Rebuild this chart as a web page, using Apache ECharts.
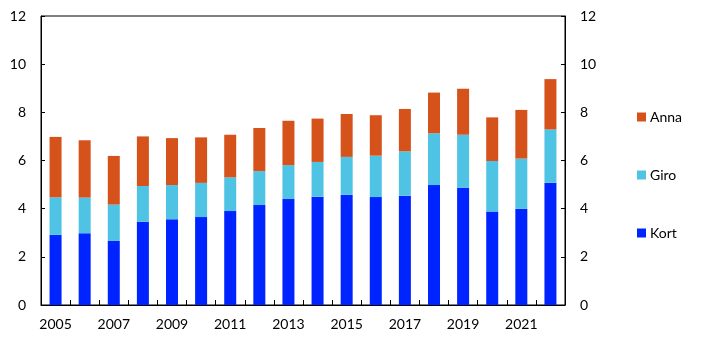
<!DOCTYPE html>
<html><head><meta charset="utf-8">
<script src="https://cdn.jsdelivr.net/npm/echarts@6/dist/echarts.min.js"></script>
<style>html,body{margin:0;padding:0;background:#fff}#c{width:722px;height:345px}</style>
</head><body><div id="c"></div>
<script>
const years = ['2005','2006','2007','2008','2009','2010','2011','2012','2013','2014','2015','2016','2017','2018','2019','2020','2021','2022'];
const kort = [2.91,2.98,2.66,3.45,3.56,3.65,3.90,4.15,4.40,4.50,4.58,4.48,4.54,4.98,4.86,3.88,3.99,5.08];
const giro = [1.56,1.48,1.51,1.49,1.42,1.42,1.40,1.41,1.41,1.44,1.57,1.72,1.84,2.15,2.21,2.10,2.09,2.21];
const anna = [2.51,2.38,2.02,2.06,1.95,1.89,1.77,1.79,1.84,1.80,1.78,1.68,1.76,1.69,1.91,1.81,2.02,2.09];
const yTicks = [0,2,4,6,8,10,12];

const font = 'Lato';
const chart = echarts.init(document.getElementById('c'), null, {renderer:'canvas'});
const yAxisBase = {
  type:'value', min:yTicks[0], max:yTicks[yTicks.length-1], interval:yTicks[1]-yTicks[0],
  axisLine:{show:true, lineStyle:{color:'#000', width:1}},
  axisTick:{show:true, inside:true, length:4, lineStyle:{color:'#000'}},
  axisLabel:{color:'#000', fontFamily:font, fontSize:14, margin:15},
  splitLine:{show:false}
};
chart.setOption({
  animation:false,
  grid:{left:41, right:157, top:16, bottom:40, show:true, borderColor:'#000', borderWidth:1},
  legend:{
    orient:'vertical', left:632, top:105, itemWidth:9, itemHeight:9, itemGap:44,
    data:['Anna','Giro','Kort'], icon:'rect',
    textStyle:{color:'#000', fontFamily:font, fontSize:14, padding:[0,0,0,-1]}
  },
  xAxis:{
    type:'category', data:years, boundaryGap:true,
    axisLine:{show:true, lineStyle:{color:'#000', width:1}},
    axisTick:{show:true, inside:true, length:5, interval:0, lineStyle:{color:'#000'}},
    axisLabel:{color:'#000', fontFamily:font, fontSize:14, margin:12, interval:1}
  },
  yAxis:[Object.assign({position:'left'}, yAxisBase), Object.assign({position:'right'}, yAxisBase)],
  series:[
    {name:'Kort', type:'bar', stack:'s', data:kort, barWidth:12, itemStyle:{color:'#0024ff'}},
    {name:'Giro', type:'bar', stack:'s', data:giro, barWidth:12, itemStyle:{color:'#4fc3e3'}},
    {name:'Anna', type:'bar', stack:'s', data:anna, barWidth:12, itemStyle:{color:'#d6521b'}}
  ]
});
</script></body></html>
